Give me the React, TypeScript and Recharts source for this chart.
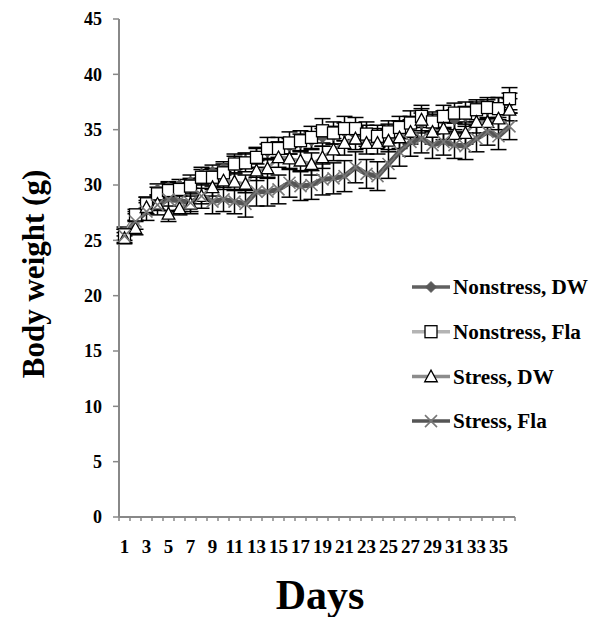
import React from 'react';
import { LineChart, Line, XAxis, YAxis, ErrorBar, Legend, Label } from 'recharts';

const days = [1, 2, 3, 4, 5, 6, 7, 8, 9, 10, 11, 12, 13, 14, 15, 16, 17, 18, 19, 20, 21, 22, 23, 24, 25, 26, 27, 28, 29, 30, 31, 32, 33, 34, 35, 36];

const nonstressDW = [25.8, 27.2, 28.4, 29.6, 29.8, 30.0, 30.3, 31.0, 31.2, 31.5, 32.0, 32.2, 32.6, 33.0, 33.2, 33.5, 33.8, 34.0, 34.3, 34.5, 34.8, 34.5, 34.6, 34.3, 34.7, 35.0, 35.3, 35.6, 35.5, 35.8, 35.9, 36.2, 36.6, 36.8, 37.0, 37.4];
const nonstressDWErr = [0.4, 0.4, 0.5, 0.5, 0.5, 0.5, 0.6, 0.6, 0.6, 0.6, 0.6, 0.7, 0.7, 0.7, 0.7, 0.7, 0.8, 0.8, 0.8, 0.8, 0.8, 0.8, 0.8, 0.8, 0.8, 0.8, 0.9, 0.9, 0.9, 0.9, 0.9, 0.9, 0.9, 0.9, 0.9, 0.9];

const nonstressFla = [25.5, 27.3, 28.3, 29.2, 29.5, 29.6, 29.9, 30.7, 30.7, 31.1, 31.9, 32.0, 32.5, 33.3, 33.3, 33.8, 34.0, 34.3, 34.9, 34.7, 35.1, 35.1, 34.6, 34.4, 34.8, 35.2, 35.6, 36.2, 35.7, 36.2, 36.5, 36.5, 36.8, 37.0, 36.9, 37.8];
const nonstressFlaErr = [0.5, 0.5, 0.6, 0.6, 0.7, 0.6, 0.7, 0.7, 0.8, 0.8, 0.9, 0.8, 0.9, 1.0, 1.0, 1.0, 0.9, 1.0, 1.1, 1.0, 1.1, 1.0, 1.1, 1.0, 1.0, 1.0, 1.1, 1.0, 0.9, 1.0, 0.9, 1.0, 0.9, 0.9, 1.0, 1.0];

const stressDW = [25.2, 26.1, 28.0, 28.3, 27.4, 27.9, 28.3, 29.0, 29.8, 30.4, 30.3, 30.1, 31.3, 31.5, 32.5, 32.4, 32.2, 31.9, 32.5, 33.2, 33.8, 34.2, 33.8, 33.8, 34.0, 34.3, 34.8, 35.9, 34.8, 35.1, 34.6, 34.7, 35.7, 35.7, 36.0, 36.8];
const stressDWErr = [0.5, 0.6, 0.6, 0.6, 0.7, 0.6, 0.7, 0.7, 0.8, 0.8, 0.8, 0.8, 0.9, 0.9, 0.9, 1.0, 0.9, 1.0, 1.0, 1.0, 1.1, 1.0, 1.0, 1.0, 1.0, 1.0, 1.1, 1.0, 1.1, 1.0, 1.0, 1.0, 1.0, 1.0, 1.0, 1.0];

const stressFla = [25.4, 26.7, 27.6, 28.2, 28.7, 28.6, 28.4, 29.0, 28.5, 28.7, 28.5, 28.3, 29.4, 29.4, 29.6, 30.2, 29.9, 30.0, 30.5, 30.6, 30.8, 31.6, 31.0, 30.8, 31.9, 33.0, 33.9, 34.2, 33.6, 33.9, 33.6, 33.5, 34.2, 34.8, 34.4, 35.3];
const stressFlaErr = [0.6, 0.7, 0.8, 0.9, 1.0, 1.0, 1.0, 1.1, 1.1, 1.1, 1.1, 1.2, 1.3, 1.3, 1.3, 1.3, 1.3, 1.3, 1.4, 1.4, 1.4, 1.4, 1.3, 1.3, 1.3, 1.3, 1.3, 1.3, 1.2, 1.2, 1.2, 1.2, 1.2, 1.2, 1.2, 1.2];

const yTicks = [0, 5, 10, 15, 20, 25, 30, 35, 40, 45];

const seriesNames = ['Nonstress, DW', 'Nonstress, Fla', 'Stress, DW', 'Stress, Fla'];

const data = days.map((d, i) => ({
  day: d,
  nsDw: nonstressDW[i],
  nsDwErr: nonstressDWErr[i],
  nsFla: nonstressFla[i],
  nsFlaErr: nonstressFlaErr[i],
  sDw: stressDW[i],
  sDwErr: stressDWErr[i],
  sFla: stressFla[i],
  sFlaErr: stressFlaErr[i],
}));

const FONT = '"Liberation Serif", "Times New Roman", serif';

const C_NSDW = '#606060';
const C_NSFLA = '#b4b4b4';
const C_SDW = '#8c8c8c';
const C_SFLA = '#555555';

const DiamondShape = ({ cx, cy, s = 5.5 }: any) => (
  <polygon points={`${cx},${cy - s} ${cx + s},${cy} ${cx},${cy + s} ${cx - s},${cy}`} fill="#585858" stroke="#585858" strokeWidth={0.8} />
);
const SquareShape = ({ cx, cy, s = 6 }: any) => (
  <rect x={cx - s} y={cy - s} width={2 * s} height={2 * s} fill="#fff" stroke="#000" strokeWidth={1.3} />
);
const TriangleShape = ({ cx, cy, s = 6.3 }: any) => (
  <polygon points={`${cx},${cy - s} ${cx + s},${cy + s * 0.85} ${cx - s},${cy + s * 0.85}`} fill="#fff" stroke="#000" strokeWidth={1.3} />
);
const XShape = ({ cx, cy, s = 6, color = '#777' }: any) => (
  <g>
    <line x1={cx - s} y1={cy - s} x2={cx + s} y2={cy + s} stroke={color} strokeWidth={1.6} />
    <line x1={cx - s} y1={cy + s} x2={cx + s} y2={cy - s} stroke={color} strokeWidth={1.6} />
  </g>
);

const mkDot = (Shape: any) => (props: any) => {
  const { cx, cy, index } = props;
  if (cx == null || cy == null) return <g key={`e-${index}`} />;
  return (
    <g key={`dot-${index}`}>
      <Shape cx={cx} cy={cy} />
    </g>
  );
};

const XTick = (props: any) => {
  const { x, y, payload, index } = props;
  const half = 5.5;
  const show = payload.value % 2 === 1;
  return (
    <g>
      <line x1={x - half} y1={y} x2={x - half} y2={y + 4} stroke="#888" strokeWidth={1.5} />
      {index === days.length - 1 && (
        <line x1={x + half} y1={y} x2={x + half} y2={y + 4} stroke="#888" strokeWidth={1.5} />
      )}
      {show && (
        <text x={x} y={y + 36} textAnchor="middle" fontFamily={FONT} fontWeight="bold" fontSize={19} fill="#000">
          {payload.value}
        </text>
      )}
    </g>
  );
};

const legendRows = [
  { name: seriesNames[0], color: C_NSDW, Shape: DiamondShape },
  { name: seriesNames[1], color: C_NSFLA, Shape: SquareShape },
  { name: seriesNames[2], color: C_SDW, Shape: TriangleShape },
  { name: seriesNames[3], color: C_SFLA, Shape: XShape },
];

const LegendContent = () => (
  <svg width={185} height={170} style={{ overflow: 'visible', display: 'block' }}>
    {legendRows.map((r, i) => {
      const cy = 17 + i * 44.7;
      return (
        <g key={r.name}>
          <line x1={0} y1={cy} x2={38} y2={cy} stroke={r.color} strokeWidth={3.5} />
          <r.Shape cx={19} cy={cy} />
          <text x={41} y={cy + 7.3} fontFamily={FONT} fontWeight="bold" fontSize={21.2} fill="#000">
            {r.name}
          </text>
        </g>
      );
    })}
  </svg>
);

export default function App() {
  return (
    <LineChart
      width={589}
      height={609}
      data={data}
      margin={{ top: 11, right: 82, left: 0, bottom: 0 }}
      style={{ fontFamily: FONT }}
    >
      <XAxis
        dataKey="day"
        type="category"
        height={100}
        padding={{ left: 5.5, right: 5.5 }}
        interval={0}
        tickLine={false}
        tickSize={0}
        tickMargin={0}
        axisLine={{ stroke: '#888', strokeWidth: 2 }}
        tick={<XTick />}
      >
        <Label
          content={() => (
            <text x={312} y={601} textAnchor="middle" fontFamily={FONT} fontWeight="bold" fontSize={42} fill="#000">
              Days
            </text>
          )}
        />
      </XAxis>
      <YAxis
        type="number"
        width={111}
        domain={[0, 45]}
        ticks={yTicks}
        interval={0}
        tickSize={6}
        tickMargin={11}
        axisLine={{ stroke: '#888', strokeWidth: 2 }}
        tickLine={{ stroke: '#888', strokeWidth: 1.5 }}
        tick={{ fontFamily: FONT, fontWeight: 'bold', fontSize: 18, fill: '#000' }}
      >
        <Label
          content={() => (
            <text
              x={25}
              y={266}
              transform="rotate(-90 25 266)"
              textAnchor="middle"
              dominantBaseline="central"
              fontFamily={FONT}
              fontWeight="bold"
              fontSize={31}
              fill="#000"
            >
              Body weight (g)
            </text>
          )}
        />
      </YAxis>
      <Legend
        layout="vertical"
        align="center"
        verticalAlign="middle"
        content={<LegendContent />}
        wrapperStyle={{ position: 'absolute', left: 404, top: 262, width: 185, height: 170 }}
      />
      <Line
        dataKey="nsDw"
        name={seriesNames[0]}
        stroke={C_NSDW}
        strokeWidth={3}
        dot={mkDot(DiamondShape)}
        activeDot={false}
        isAnimationActive={false}
      >
        <ErrorBar dataKey="nsDwErr" width={8} stroke="#000" strokeWidth={1.5} isAnimationActive={false} />
      </Line>
      <Line
        dataKey="nsFla"
        name={seriesNames[1]}
        stroke={C_NSFLA}
        strokeWidth={3}
        dot={mkDot(SquareShape)}
        activeDot={false}
        isAnimationActive={false}
      >
        <ErrorBar dataKey="nsFlaErr" width={8} stroke="#000" strokeWidth={1.5} isAnimationActive={false} />
      </Line>
      <Line
        dataKey="sDw"
        name={seriesNames[2]}
        stroke={C_SDW}
        strokeWidth={3}
        dot={mkDot(TriangleShape)}
        activeDot={false}
        isAnimationActive={false}
      >
        <ErrorBar dataKey="sDwErr" width={8} stroke="#000" strokeWidth={1.5} isAnimationActive={false} />
      </Line>
      <Line
        dataKey="sFla"
        name={seriesNames[3]}
        stroke={C_SFLA}
        strokeWidth={5}
        dot={mkDot(XShape)}
        activeDot={false}
        isAnimationActive={false}
      >
        <ErrorBar dataKey="sFlaErr" width={8} stroke="#000" strokeWidth={1.5} isAnimationActive={false} />
      </Line>
    </LineChart>
  );
}
